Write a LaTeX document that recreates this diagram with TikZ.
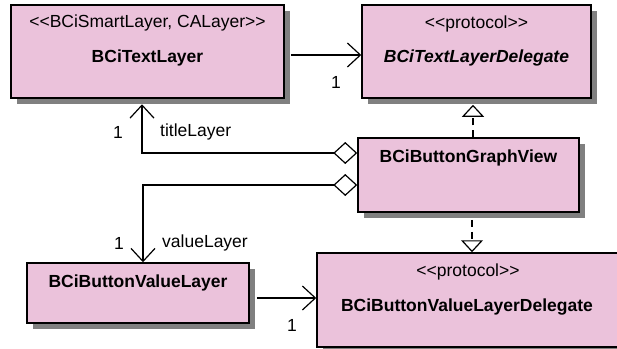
\documentclass[tikz,border=0pt]{standalone}
\usepackage{fontspec}
\setmainfont{Liberation Sans}
\usetikzlibrary{arrows.meta, shadows, calc, positioning}

\definecolor{classpink}{RGB}{235,194,219}
\newcommand{\stereo}[1]{<{}<#1>{}>}

\begin{document}
\begin{tikzpicture}[
    x=1pt, y=-1pt,
    umlclass/.style={
        rectangle,
        draw,
        line width=1.5pt,
        fill=classpink,
        inner sep=0pt,
        drop shadow={shadow xshift=6pt, shadow yshift=-6pt, fill=black!50, opacity=1}
    },
    txt/.style={font=\fontsize{17.5}{21}\selectfont, inner sep=0pt},
    stereotype/.style={txt, anchor=base},
    classname/.style={txt, anchor=base, font=\fontsize{17.5}{21}\selectfont\bfseries},
    assoc/.style={-{Straight Barb[length=13pt, width=24pt]}, line width=1.2pt},
    aggr/.style={{Diamond[fill=white, length=24pt, width=22pt]}-{Straight Barb[length=13pt, width=24pt]}, line width=1.2pt},
    realize/.style={-{Triangle[open, fill=white, length=12pt, width=22pt]}, line width=1.2pt, dash pattern=on 7pt off 5pt}
]

\useasboundingbox (0,0) rectangle (617,348);
\clip (0,0) rectangle (617,348);

% Classes
\node (textlayer) [umlclass, minimum width=273pt, minimum height=93pt] at (147.5,51.5) {};
\node (textdelegate) [umlclass, minimum width=229pt, minimum height=93pt] at (476.5,51.5) {};
\node (graphview) [umlclass, minimum width=221pt, minimum height=74pt] at (468.5,175) {};
\node (valuelayer) [umlclass, minimum width=222pt, minimum height=60pt] at (138,293) {};
\node (valuedelegate) [umlclass, minimum width=302pt, minimum height=94pt] at (468,300) {};

% Class texts
\node (textlayer-st) [stereotype] at (147.5,27) {\stereo{BCiSmartLayer, CALayer}};
\node (textlayer-nm) [classname] at (147.5,62) {BCiTextLayer};
\node (textdelegate-st) [stereotype] at (476.5,28) {\stereo{protocol}};
\node (textdelegate-nm) [classname, font=\fontsize{17.5}{21}\selectfont\bfseries\itshape] at (476.5,62) {BCiTextLayerDelegate};
\node (graphview-nm) [classname] at (468.5,162) {BCiButtonGraphView};
\node (valuelayer-nm) [classname] at (138,287) {BCiButtonValueLayer};
\node (valuedelegate-st) [stereotype] at (468,276) {\stereo{protocol}};
\node (valuedelegate-nm) [classname] at (467,311) {BCiButtonValueLayerDelegate};

% Associations
\draw [assoc] ([xshift=6pt,yshift=-3.5pt]textlayer.east) -- ([yshift=-3.5pt]textdelegate.west);
\draw [aggr] ([yshift=22pt]graphview.west) -| ([xshift=-5.5pt,yshift=-5.5pt]textlayer.south);
\draw [aggr] ([yshift=-10pt]graphview.west) -| ([xshift=5pt]valuelayer.north);
\draw [assoc] ([xshift=7pt,yshift=-5pt]valuelayer.east) -- ([yshift=2pt]valuedelegate.west);

% Realizations
\draw [realize] ([xshift=4.5pt]graphview.north) -- ([xshift=-3.5pt,yshift=-6pt]textdelegate.south);
\draw [realize] ([xshift=3.5pt,yshift=-7pt]graphview.south) -- ([xshift=4pt]valuedelegate.north);

% Multiplicities and roles
\node (one-a) [txt] at (336,82) {1};
\node (one-b) [txt] at (118,132) {1};
\node (title-role) [txt, anchor=west] at (160,132) {titleLayer};
\node (one-c) [txt] at (119,243) {1};
\node (value-role) [txt, anchor=west] at (162,243) {valueLayer};
\node (one-d) [txt] at (292,325) {1};

\end{tikzpicture}
\end{document}
